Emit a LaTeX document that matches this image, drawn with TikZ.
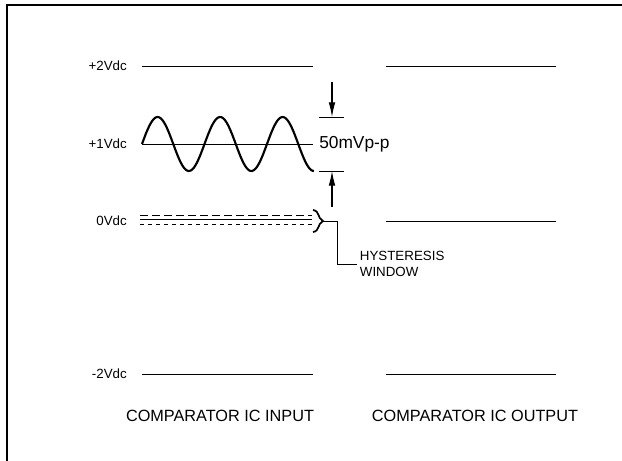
\documentclass[tikz,border=0pt]{standalone}
\usepackage{fontspec}
\setmainfont{Liberation Sans}
\usepackage{tikz}
\usetikzlibrary{arrows.meta,positioning,calc}

\tikzset{
  lvlline/.style={line width=0.7pt},
  lvllabel/.style={font=\fontsize{10}{12}\selectfont,anchor=east,inner sep=0pt},
  captext/.style={font=\fontsize{12.2}{14}\selectfont,inner sep=0pt},
  dimarrow/.style={-{Latex[length=11pt,width=5pt]},line width=0.8pt},
}

\begin{document}
\begin{tikzpicture}[x=0.75pt,y=-0.75pt]
  \useasboundingbox (0,0) rectangle (622,461);
  % frame
  \draw[line width=1.3pt] (7,461) -- (7,5) -- (622,5);

  % level labels
  \foreach \nm/\txt/\y in {ptwo/+2Vdc/66,pone/+1Vdc/144,zero/0Vdc/221,mtwo/-2Vdc/374}{
    \node[lvllabel] (lbl\nm) at (127,\y) {\txt};
  }

  % input side
  \draw[lvlline] (142,66) -- (313,66);
  \draw[lvlline] (142,144) -- (313,144);
  \draw[lvlline] (142,374) -- (313,374);
  \draw[lvlline,dashed,dash pattern=on 6pt off 3pt] (140,215.5) -- (312,215.5);
  \draw[lvlline] (140,219.5) -- (312,219.5);
  \draw[lvlline,dash pattern=on 3pt off 3pt] (140,224) -- (312,224);

  % output side
  \foreach \y in {66,221,374}{
    \draw[lvlline] (386,\y) -- (556,\y);
  }

  % input signal
  \draw[line width=1.6pt] plot[domain=0:990,samples=120,smooth]
    ({142+\x/360*62.5},{144-27*sin(\x)});

  % peak to peak mark
  \coordinate (pktop) at (332,117);
  \coordinate (pkbot) at (332,171);
  \draw[lvlline] (319,117) -- (344,117);
  \draw[lvlline] (319,171) -- (344,171);
  \draw[dimarrow] (332,82) -- (pktop);
  \draw[dimarrow] (332,207) -- (pkbot);
  \node[font=\fontsize{13}{15}\selectfont,anchor=west,inner sep=0pt] (ptp) at (319,144) {50mVp-p};

  % hysteresis window
  \draw[line width=1.3pt] (313,210) .. controls (320,211) and (317,218) .. (323,221)
    .. controls (317,224) and (320,231) .. (313,232);
  \coordinate (bracetip) at (323,221);
  \node[font=\fontsize{10}{12}\selectfont,align=left,anchor=west,inner sep=2pt] (hyst) at (357,264)
    {HYSTERESIS\\WINDOW};
  \draw[lvlline] (bracetip) -- (337,221) |- (hyst.west);

  % captions
  \node[captext] (capin) at (220,416) {COMPARATOR IC INPUT};
  \node[captext] (capout) at (475,416) {COMPARATOR IC OUTPUT};
\end{tikzpicture}
\end{document}
